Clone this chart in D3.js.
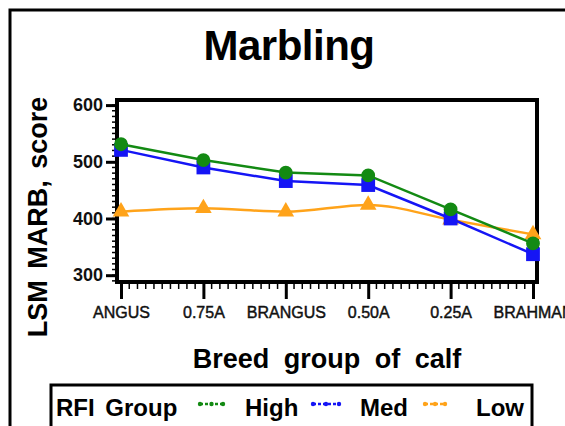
<!DOCTYPE html>
<html>
<head>
<meta charset="utf-8">
<script src="https://cdn.jsdelivr.net/npm/d3@7"></script>
<style>
  body { margin: 0; background: #fff; overflow: hidden; }
  svg { display: block; font-family: "Liberation Sans", Arial, sans-serif; }
</style>
</head>
<body>
<svg id="chart"></svg>
<script>
var breeds = ["ANGUS", "0.75A", "BRANGUS", "0.50A", "0.25A", "BRAHMAN"];
var highValues = [531, 503, 481, 476, 416, 356];
var medValues = [521, 490, 466, 459, 400, 337];
var lowValues = [412, 418, 412, 424, 398, 372];
var yTicks = [300, 400, 500, 600];
var groupNames = ["High", "Med", "Low"];

var colors = {
	"High" : "#138a13",
	"Med" : "#1515f5",
	"Low" : "#ffa31a"
};

var W = 565, H = 426;
// plot box (not "top": that name is taken by window.top)
var pLeft = 117, pRight = 537, pTop = 100, pBottom = 282;

var svg = d3.select("#chart")
	.attr("width", W)
	.attr("height", H);

// outer frame: only top and left edges are in view
svg.append("path")
	.attr("d", "M10," + (H + 5) + "V10H" + (W + 5))
	.attr("fill", "none")
	.attr("stroke", "#000")
	.attr("stroke-width", 3);

var x = d3.scalePoint()
	.domain(breeds)
	.range([121, 533]);

var y = d3.scaleLinear()
	.domain([288, 609])
	.range([pBottom, pTop]);

// y axis: major + minor ticks
var yMinor = d3.range(290, 601, 10);
svg.append("g").selectAll("line")
	.data(yMinor)
	.enter().append("line")
	.attr("x1", pLeft - 5).attr("x2", pLeft)
	.attr("y1", function(d) { return y(d); })
	.attr("y2", function(d) { return y(d); })
	.attr("stroke", "#000").attr("stroke-width", 1.5);

var yAxis = svg.append("g")
	.attr("transform", "translate(" + pLeft + ",0)")
	.call(d3.axisLeft(y).tickValues(yTicks).tickSize(11).tickPadding(3));
yAxis.select(".domain").remove();
yAxis.selectAll(".tick line").attr("stroke-width", 3);
yAxis.selectAll("text")
	.attr("font-size", "18px")
	.attr("font-weight", "bold")
	.attr("fill", "#111");

// x axis: major + minor ticks
var step = x.step();
var xMinor = [];
breeds.forEach(function(b, i) {
	if (i < breeds.length - 1) {
		for (var k = 1; k < 10; k++) xMinor.push(x(b) + k * step / 10);
	}
});
svg.append("g").selectAll("line")
	.data(xMinor)
	.enter().append("line")
	.attr("x1", function(d) { return d; })
	.attr("x2", function(d) { return d; })
	.attr("y1", pBottom).attr("y2", pBottom + 7)
	.attr("stroke", "#000").attr("stroke-width", 1.5);

var xAxis = svg.append("g")
	.attr("transform", "translate(0," + pBottom + ")")
	.call(d3.axisBottom(x).tickSize(17).tickPadding(8));
xAxis.select(".domain").remove();
xAxis.selectAll(".tick line").attr("stroke-width", 3);
xAxis.selectAll("text")
	.attr("font-size", "16px")
	.attr("fill", "#111")
	.attr("stroke", "#111")
	.attr("stroke-width", 0.45);

// plot frame
svg.append("rect")
	.attr("x", pLeft).attr("y", pTop)
	.attr("width", pRight - pLeft).attr("height", pBottom - pTop)
	.attr("fill", "none")
	.attr("stroke", "#000")
	.attr("stroke-width", 4);

var series = [
	{ name: "High", values: highValues, symbol: d3.symbolCircle, size: 150, curve: d3.curveLinear },
	{ name: "Med", values: medValues, symbol: d3.symbolSquare, size: 190, curve: d3.curveLinear },
	{ name: "Low", values: lowValues, symbol: d3.symbolTriangle, size: 120, curve: d3.curveMonotoneX }
];

var plot = svg.append("g");
series.slice().reverse().forEach(function(s) {
	var line = d3.line()
		.x(function(d, i) { return x(breeds[i]); })
		.y(function(d) { return y(d); })
		.curve(s.curve);
	plot.append("path")
		.datum(s.values)
		.attr("d", line)
		.attr("fill", "none")
		.attr("stroke", colors[s.name])
		.attr("stroke-width", 2.5);
	plot.selectAll(".m-" + s.name)
		.data(s.values)
		.enter().append("path")
		.attr("class", "m-" + s.name)
		.attr("d", d3.symbol().type(s.symbol).size(s.size))
		.attr("transform", function(d, i) {
			return "translate(" + x(breeds[i]) + "," + y(d) + ")";
		})
		.attr("fill", colors[s.name]);
});

// titles
svg.append("text")
	.attr("x", 289).attr("y", 60)
	.attr("text-anchor", "middle")
	.attr("font-size", "42px")
	.attr("font-weight", "bold")
	.attr("letter-spacing", "-0.5px")
	.text("Marbling");

svg.append("text")
	.attr("x", 327).attr("y", 368)
	.attr("text-anchor", "middle")
	.attr("font-size", "27px")
	.attr("font-weight", "bold")
	.attr("word-spacing", "7px")
	.text("Breed group of calf");

svg.append("text")
	.attr("transform", "translate(47,217) rotate(-90)")
	.attr("text-anchor", "middle")
	.attr("font-size", "27px")
	.attr("font-weight", "bold")
	.attr("word-spacing", "4px")
	.text("LSM MARB, score");

// legend
var legend = svg.append("g");
legend.append("rect")
	.attr("x", 51).attr("y", 385)
	.attr("width", 481).attr("height", 60)
	.attr("fill", "none")
	.attr("stroke", "#000")
	.attr("stroke-width", 3);
legend.append("text")
	.attr("x", 56).attr("y", 416)
	.attr("font-size", "24px")
	.attr("font-weight", "bold")
	.attr("word-spacing", "4px")
	.text("RFI Group");

var legendX = { "High": 200, "Med": 313, "Low": 425 };
var legendW = { "High": 23, "Med": 26, "Low": 20 };
var legendTextX = { "High": 245, "Med": 360, "Low": 476 };
groupNames.forEach(function(g) {
	var x0 = legendX[g];
	legend.append("line")
		.attr("x1", x0).attr("x2", x0 + legendW[g])
		.attr("y1", 404).attr("y2", 404)
		.attr("stroke", colors[g])
		.attr("stroke-width", 2.5)
		.attr("stroke-dasharray", "3,2");
	legend.selectAll(".lm-" + g)
		.data([0, 0.5, 1])
		.enter().append("circle")
		.attr("cx", function(d) { return x0 + d * legendW[g]; })
		.attr("cy", 404)
		.attr("r", 2.2)
		.attr("fill", colors[g]);
	legend.append("text")
		.attr("x", legendTextX[g]).attr("y", 416)
		.attr("font-size", "24px")
		.attr("font-weight", "bold")
		.text(g);
});
</script>
</body>
</html>
